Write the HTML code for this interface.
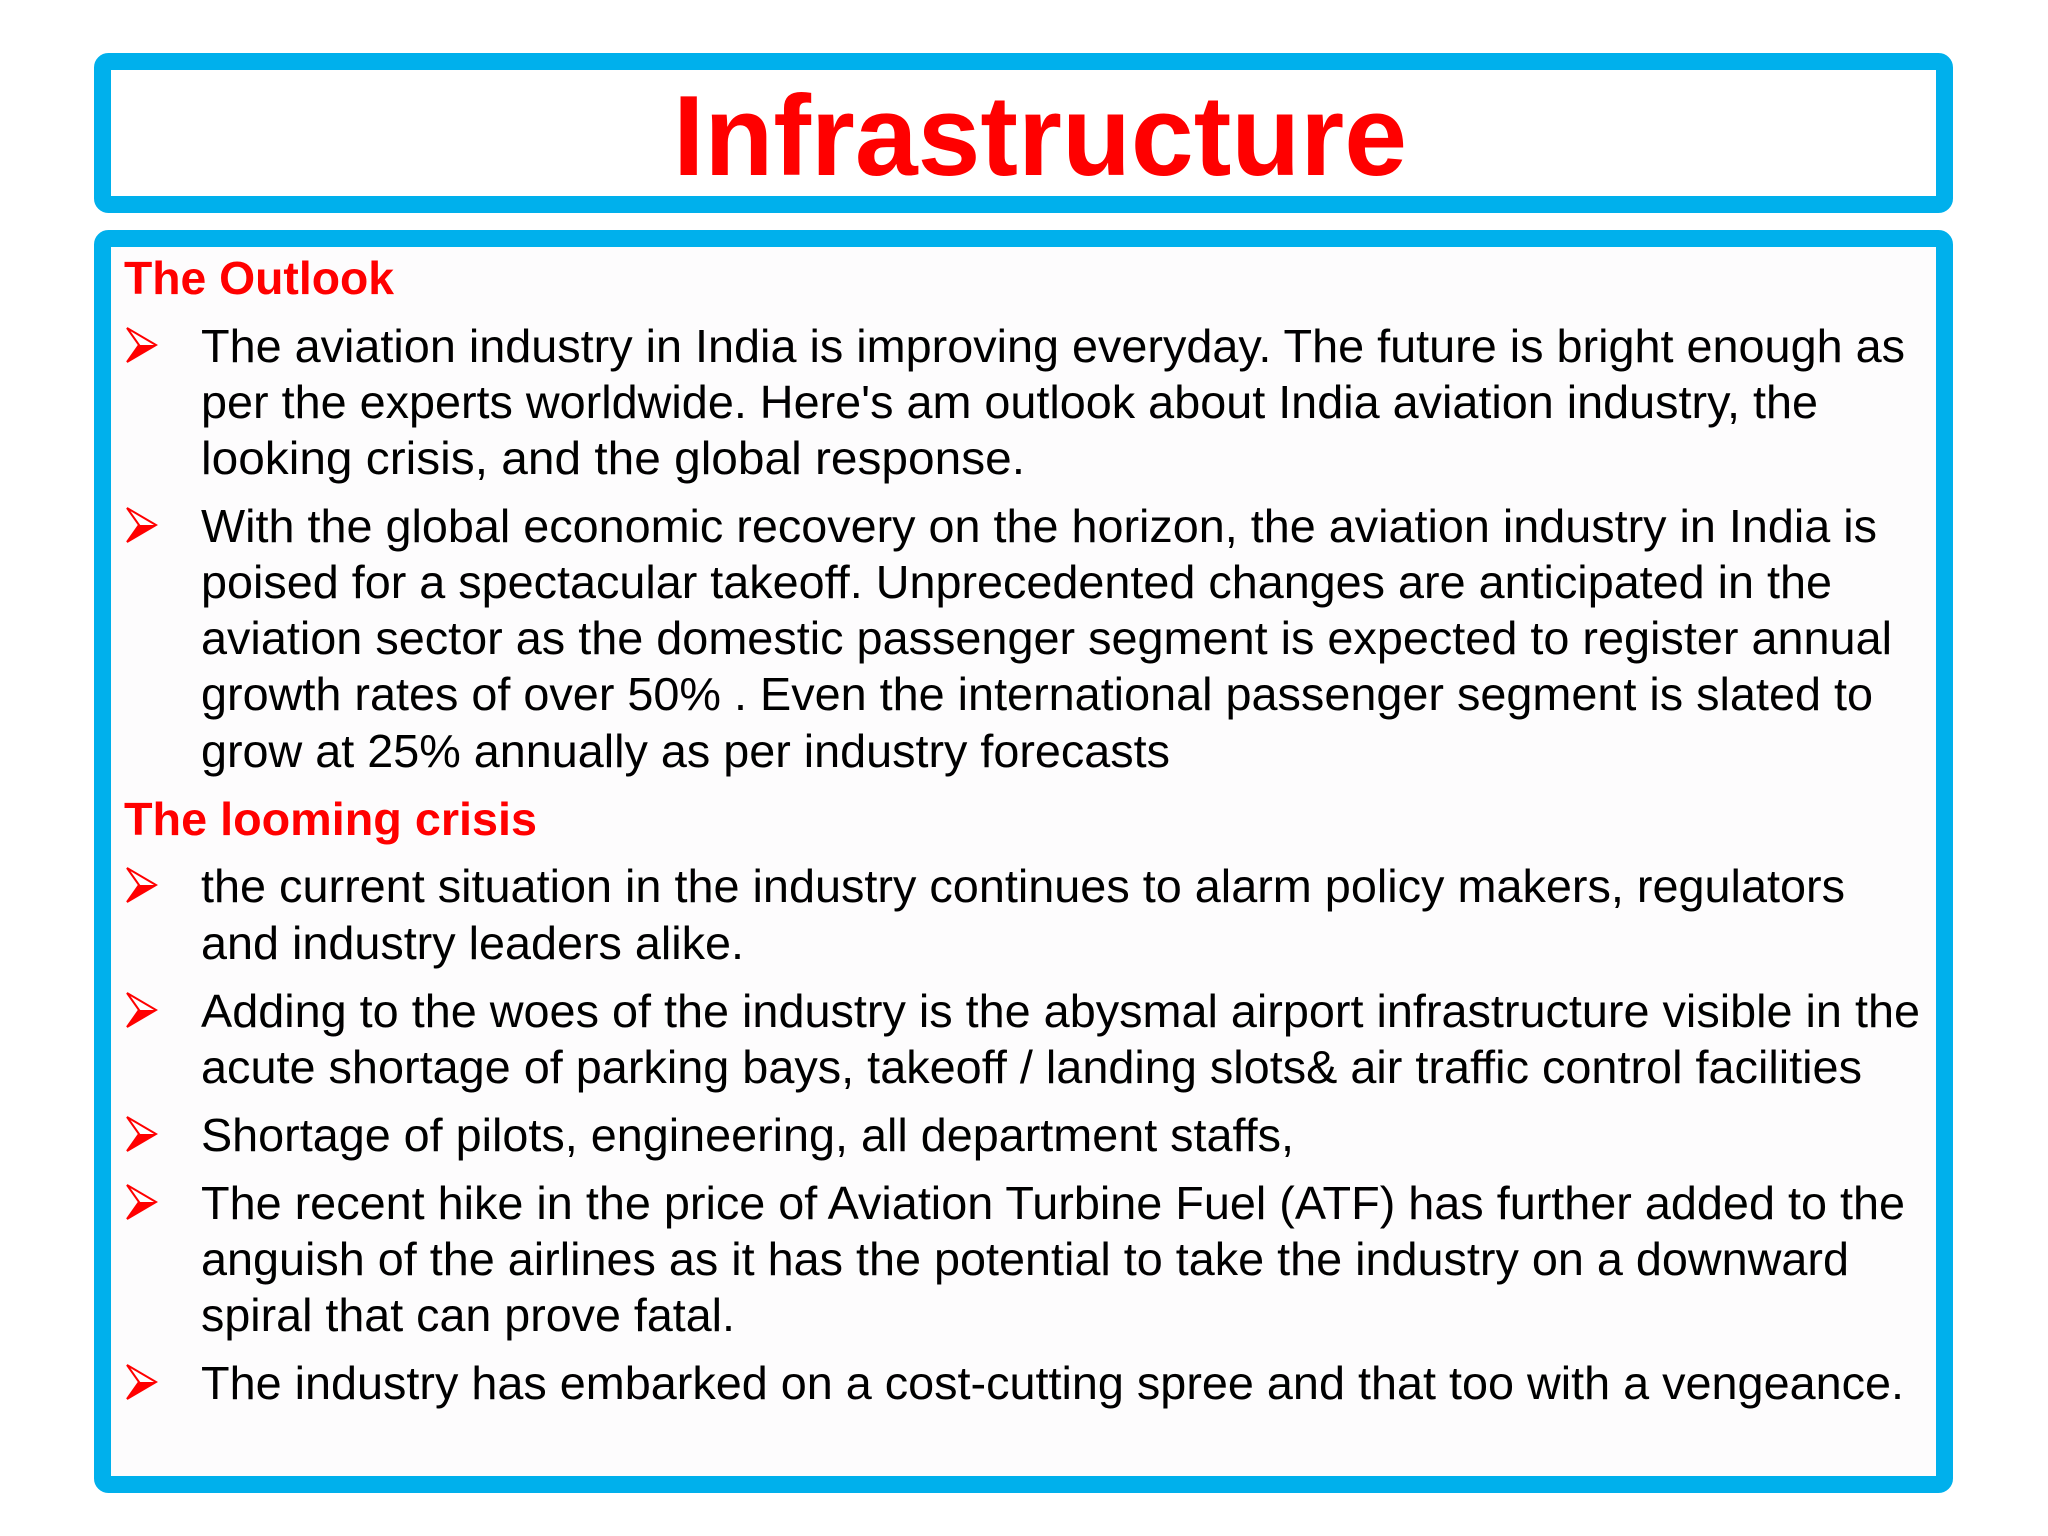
<!DOCTYPE html>
<html><head><meta charset="utf-8"><style>
html,body{margin:0;padding:0;background:#fff}
svg{display:block}
text{font-family:"Liberation Sans",Arial,sans-serif}
</style></head><body>
<svg width="2048" height="1536" viewBox="0 0 2048 1536">
<rect x="102.5" y="61.5" width="1842" height="143" rx="6" fill="#fff" stroke="#00b0ec" stroke-width="17"/>
<text x="673" y="175" font-size="114" font-weight="bold" fill="#ff0000" textLength="734" lengthAdjust="spacingAndGlyphs">Infrastructure</text>
<rect x="102.5" y="238.5" width="1842" height="1246" rx="6" fill="#fdfcfd" stroke="#00b0ec" stroke-width="17"/>
<g id="content"></g>
</svg>
<script>
const headings = [["The Outlook",294,394],["The looming crisis",835,537]];
const lines = [
["The aviation industry in India is improving everyday. The future is bright enough as",362,1905,true],
["per the experts worldwide. Here's am outlook about India aviation industry, the",418,1818,false],
["looking crisis, and the global response.",474,1025,false],
["With the global economic recovery on the horizon, the aviation industry in India is",542,1877,true],
["poised for a spectacular takeoff. Unprecedented changes are anticipated in the",598,1832,false],
["aviation sector as the domestic passenger segment is expected to register annual",654,1892,false],
["growth rates of over 50% . Even the international passenger segment is slated to",710,1873,false],
["grow at 25% annually as per industry forecasts",767,1170,false],
["the current situation in the industry continues to alarm policy makers, regulators",902,1845,true],
["and industry leaders alike.",959,744,false],
["Adding to the woes of the industry is the abysmal airport infrastructure visible in the",1027,1920,true],
["acute shortage of parking bays, takeoff / landing slots& air traffic control facilities",1083,1862,false],
["Shortage of pilots, engineering, all department staffs,",1151,1294,true],
["The recent hike in the price of Aviation Turbine Fuel (ATF) has further added to the",1219,1905,true],
["anguish of the airlines as it has the potential to take the industry on a downward",1275,1849,false],
["spiral that can prove fatal.",1331,735,false],
["The industry has embarked on a cost-cutting spree and that too with a vengeance.",1399,1904,true]
];
const NS="http://www.w3.org/2000/svg";
const g=document.getElementById('content');
headings.forEach(h=>{
 const t=document.createElementNS(NS,'text');
 
 
 t.setAttribute('x',124);t.setAttribute('y',h[1]);
 t.setAttribute('font-size','46');t.setAttribute('font-weight','bold');t.setAttribute('fill','#ff0000');
 t.setAttribute('textLength',h[2]-124);t.setAttribute('lengthAdjust','spacingAndGlyphs');
 t.textContent=h[0];g.appendChild(t);
});
lines.forEach(l=>{
 const y=l[1];
 if(l[3]){
  const a=document.createElementNS(NS,'polygon');
  
  
  a.setAttribute('points',`127,${y-34} 156,${y-17} 127,${y} 139,${y-17}`);
  a.setAttribute('fill','#fff');a.setAttribute('stroke','#ff0000');a.setAttribute('stroke-width','2');
  g.appendChild(a);
  const b=document.createElementNS(NS,'polygon');
  
  
  b.setAttribute('points',`139,${y-17} 156,${y-17} 127,${y}`);
  b.setAttribute('fill','#ff0000');
  g.appendChild(b);
 }
 const t=document.createElementNS(NS,'text');
 
 
 t.setAttribute('x',201);t.setAttribute('y',y);
 t.setAttribute('font-size','46');t.setAttribute('fill','#000');
 t.setAttribute('textLength',l[2]-201);t.setAttribute('lengthAdjust','spacingAndGlyphs');
 t.textContent=l[0];g.appendChild(t);
});
</script>
</body></html>
